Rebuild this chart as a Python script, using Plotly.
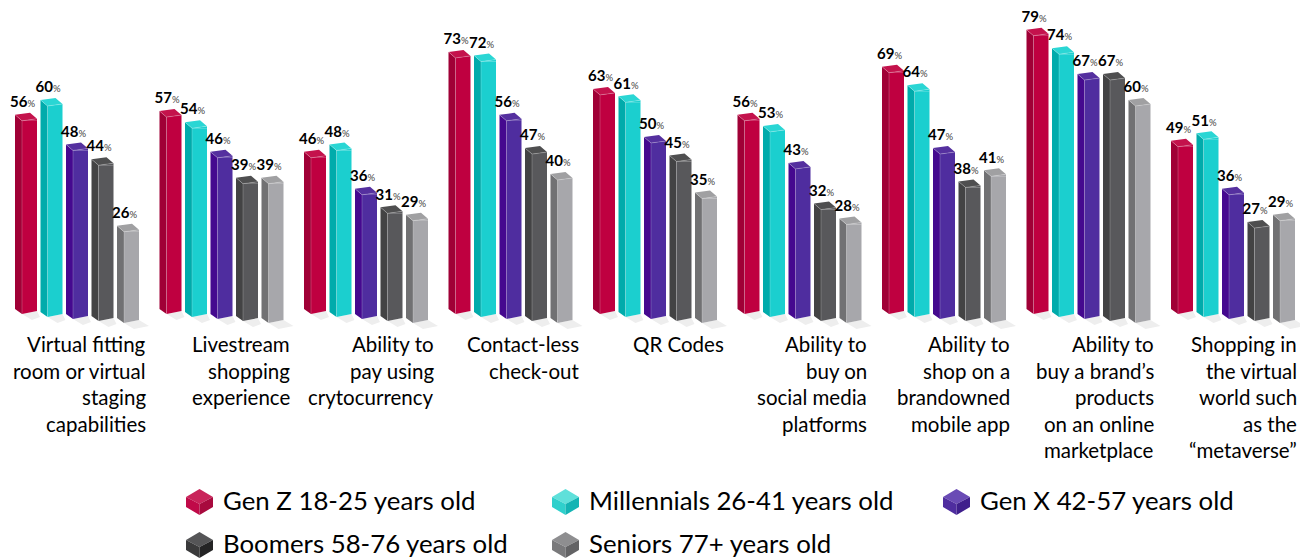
import plotly.graph_objects as go

categories = [
    "Virtual fitting<br>room or virtual<br>staging<br>capabilities",
    "Livestream<br>shopping<br>experience",
    "Ability to<br>pay using<br>crytocurrency",
    "Contact-less<br>check-out",
    "QR Codes",
    "Ability to<br>buy on<br>social media<br>platforms",
    "Ability to<br>shop on a<br>brandowned<br>mobile app",
    "Ability to<br>buy a brand’s<br>products<br>on an online<br>marketplace",
    "Shopping in<br>the virtual<br>world such<br>as the<br>“metaverse”",
]
gen_z = [56, 57, 46, 73, 63, 56, 69, 79, 49]
millennials = [60, 54, 48, 72, 61, 53, 64, 74, 51]
gen_x = [48, 46, 36, 56, 50, 43, 47, 67, 36]
boomers = [44, 39, 31, 47, 45, 32, 38, 67, 27]
seniors = [26, 39, 29, 40, 35, 28, 41, 60, 29]
series_names = ["Gen Z 18-25 years old", "Millennials 26-41 years old", "Gen X 42-57 years old",
                "Boomers 58-76 years old", "Seniors 77+ years old"]
series_values = [gen_z, millennials, gen_x, boomers, seniors]

# styles: front, side, cap
front_colors = ["#bf0040", "#1bcfcf", "#4f2d9f", "#58585b", "#a7a7ab"]
side_colors = ["#a00036", "#00abab", "#45098f", "#434344", "#717173"]
cap_colors = ["#c4124c", "#2ad6d4", "#55309f", "#4f4f50", "#a0a0a2"]
icon_top = ["#c9245a", "#5fe0da", "#6a4bb5", "#555557", "#8e8e90"]
icon_left = ["#c00a48", "#2fd0cc", "#4f2d9f", "#3a3a3b", "#79797b"]
icon_right = ["#a80a3e", "#14b4b4", "#3f1f8c", "#242425", "#636365"]

W, H = 1300, 559
PX_X = 144.5      # pixels per category
PX_Y = 3.7        # pixels per percentage point
X0, Y0 = 15, 320  # pixel position of first bar edge / zero line
STEP = 25.5
base_px = [314, 317, 319, 321, 323]

dx = lambda p: p / PX_X
dy = lambda p: p / PX_Y
py = lambda p: (Y0 - p) / PX_Y  # pixel row -> value, used for the fixed baseline only

fig = go.Figure()


def poly(xs, ys, x, y):
    xs.extend(x + [x[0], None])
    ys.extend(y + [y[0], None])


for s, vals in enumerate(series_values):
    sh_x, sh_y, si_x, si_y, ca_x, ca_y, we_x, we_y, ed_x, ed_y = [], [], [], [], [], [], [], [], [], []
    fx, fbase, fh = [], [], []
    b = py(base_px[s])
    for g, v in enumerate(vals):
        xl = g + dx(s * STEP)
        xf, xr, xb = xl + dx(7), xl + dx(22), xl + dx(15)
        # cap
        poly(ca_x, ca_y, [xl, xb, xr, xf], [v - dy(2), v, v - dy(6), v - dy(8)])
        # side face
        poly(si_x, si_y, [xl, xf, xf, xl], [v - dy(2), v - dy(8), b, b + dy(5)])
        # sloping ends of the front face
        poly(we_x, we_y, [xf, xr, xr], [v - dy(8), v - dy(6), v - dy(8)])
        poly(we_x, we_y, [xf, xr, xf], [b + dy(3), b + dy(3), b])
        # light edges of the box
        ed_x.extend([xl, xf, xr, None, xf, xf, None])
        ed_y.extend([v - dy(2), v - dy(8), v - dy(6), None, v - dy(8), b, None])
        # front
        fx.append(xf + dx(7.5))
        fbase.append(b + dy(3))
        fh.append(v - dy(8) - (b + dy(3)))
        # floor shadow, stops at next bar in the group
        lim = xl + dx(STEP - 0.5) if s < 4 else xl + dx(34)
        poly(sh_x, sh_y, [xf, xr, min(xr + dx(10), lim), min(xf + dx(10), lim)],
             [b, b + dy(3), b - dy(3), b - dy(6)])
    fig.add_trace(go.Bar(x=fx, y=fh, base=fbase, width=dx(15), marker=dict(color=front_colors[s], line_width=0),
                         name=series_names[s], showlegend=False, customdata=vals,
                         hovertemplate="%{customdata}%<extra>" + series_names[s] + "</extra>"))
    for xs, ys, col in [(sh_x, sh_y, "#eeeeee"), (si_x, si_y, side_colors[s]),
                        (we_x, we_y, front_colors[s]), (ca_x, ca_y, cap_colors[s])]:
        fig.add_trace(go.Scatter(x=xs, y=ys, mode="lines", fill="toself", fillcolor=col,
                                 line=dict(width=0, color=col), hoverinfo="skip", showlegend=False))
    fig.add_trace(go.Scatter(x=ed_x, y=ed_y, mode="lines", line=dict(width=0.7, color="rgba(255,255,255,0.3)"),
                             hoverinfo="skip", showlegend=False))
    fig.add_trace(go.Scatter(
        x=[g + dx(s * STEP + 7.5) for g in range(len(vals))],
        y=[v + dy(2) for v in vals], mode="text",
        text=[f"<b>{v}</b><span style='font-size:9.5px;fill:#444444'>%</span>" for v in vals],
        textposition="top center", textfont=dict(family="Lato", size=15, color="#000000"),
        hoverinfo="skip", showlegend=False))

annotations = []
# category labels, right aligned
label_right = [148, 292, 436, 581, 726, 869, 1012, 1156, 1299]
line_rows = [343.5, 370.5, 396.5, 423.5, 449.5]
for c, cx in zip(categories, label_right):
    for i, line in enumerate(c.split("<br>")):
        annotations.append(dict(x=cx / W, y=1 - line_rows[i] / H, xref="paper", yref="paper", text=line,
                                showarrow=False, xanchor="right", yanchor="middle",
                                font=dict(family="Lato", size=20.5, color="#000000")))

# legend
shapes = []
legend_pos = [(186, 502), (552, 502), (943, 502), (186, 545), (552, 545)]


def pth(points):
    return "M" + "L".join(f"{x / W:.5f},{1 - y / H:.5f}" for x, y in points) + "Z"


for i, (lx, ly) in enumerate(legend_pos):
    t, m, b, l, r, c = ly - 13, ly - 5, ly + 5, lx, lx + 27, lx + 13.5
    bot = ly + 13
    faces = [([(l, m), (c, t), (r, m), (c, ly + 2)], icon_top[i]),
             ([(l, m), (c, ly + 2), (c, bot), (l, b)], icon_left[i]),
             ([(r, m), (c, ly + 2), (c, bot), (r, b)], icon_right[i])]
    for pts, col in faces:
        shapes.append(dict(type="path", xref="paper", yref="paper", path=pth(pts),
                           fillcolor=col, line=dict(width=0)))
    annotations.append(dict(x=(lx + 35) / W, y=1 - (ly - 2.5) / H, xref="paper", yref="paper",
                            text=series_names[i], showarrow=False, xanchor="left", yanchor="middle",
                            font=dict(family="Lato", size=25.8, color="#000000")))

fig.update_layout(
    width=W, height=H, margin=dict(l=0, r=0, t=0, b=0), paper_bgcolor="white", plot_bgcolor="white",
    barmode="overlay", showlegend=False, annotations=annotations, shapes=shapes,
    xaxis=dict(range=[-X0 / PX_X, (W - X0) / PX_X], visible=False),
    yaxis=dict(range=[(Y0 - H) / PX_Y, Y0 / PX_Y], visible=False),
)
fig.write_html("out.html", post_script="document.body.style.margin='0';", config={"displayModeBar": False})
